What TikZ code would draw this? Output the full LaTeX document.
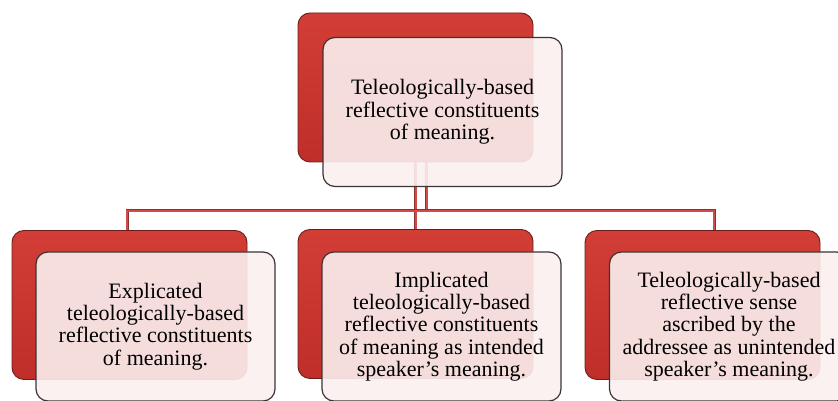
\documentclass[tikz,border=0pt]{standalone}
\usepackage{fontspec}
\setmainfont{Liberation Serif}
\usetikzlibrary{backgrounds}

\definecolor{boxred}{RGB}{192,46,42}
\definecolor{boxredlight}{RGB}{210,62,54}
\definecolor{boxreddark}{RGB}{105,30,28}
\definecolor{frontfill}{RGB}{251,240,240}
\definecolor{frontedge}{RGB}{60,52,52}
\definecolor{linkred}{RGB}{210,75,72}
\definecolor{linkedge}{RGB}{140,48,46}

\begin{document}
\begin{tikzpicture}[x=1pt, y=1pt,
		backbox/.style={draw=boxreddark, line width=0.9pt, rounded corners=12pt,
			top color=boxredlight, bottom color=boxred, inner sep=0pt,
			minimum width=235pt, minimum height=149pt},
		frontbox/.style={draw=frontedge, line width=1.2pt, rounded corners=12pt,
			fill=frontfill, fill opacity=0.9, text opacity=1, inner sep=0pt,
			minimum width=239pt, minimum height=149pt, align=center,
			font=\fontsize{22}{22.3}\selectfont},
		link/.style={draw=linkedge, line width=0.5pt, double=linkred, double distance=2pt}]

			\clip (0,0) rectangle (838,401);

			% Draw the top pair of boxes
			\node[backbox] (topback) at (415.5, 313.5) {};
			\node[frontbox] (topfront) at (442.5, 289) {Teleologically-based\\reflective constituents\\of meaning.};

			% Draw the lower pairs of boxes
			\node[backbox] (leftback) at (129.5, 96) {};
			\node[frontbox] (leftfront) at (155.5, 74.5) {Explicated\\teleologically-based\\reflective constituents\\of meaning.};

			\node[backbox] (midback) at (415.5, 97) {};
			\node[frontbox] (midfront) at (441.5, 74.5) {Implicated\\teleologically-based\\reflective constituents\\of meaning as intended\\speaker’s meaning.};

			\node[backbox] (rightback) at (702.5, 96) {};
			\node[frontbox] (rightfront) at (729, 74.5) {Teleologically-based\\reflective sense\\ascribed by the\\addressee as unintended\\speaker’s meaning.};

			% Draw the connectors behind the boxes
			\begin{scope}[on background layer]
				\draw[link] (topback.south) -- (midback.north);
				\draw[link] ([xshift=11pt]topback.south) -- ++(0,-48.5) coordinate (fork);
				\draw[link] (fork) -| ([xshift=-2.5pt]leftback.north);
				\draw[link] (fork) -| ([xshift=11.5pt]rightback.north);
			\end{scope}

		\end{tikzpicture}
\end{document}
